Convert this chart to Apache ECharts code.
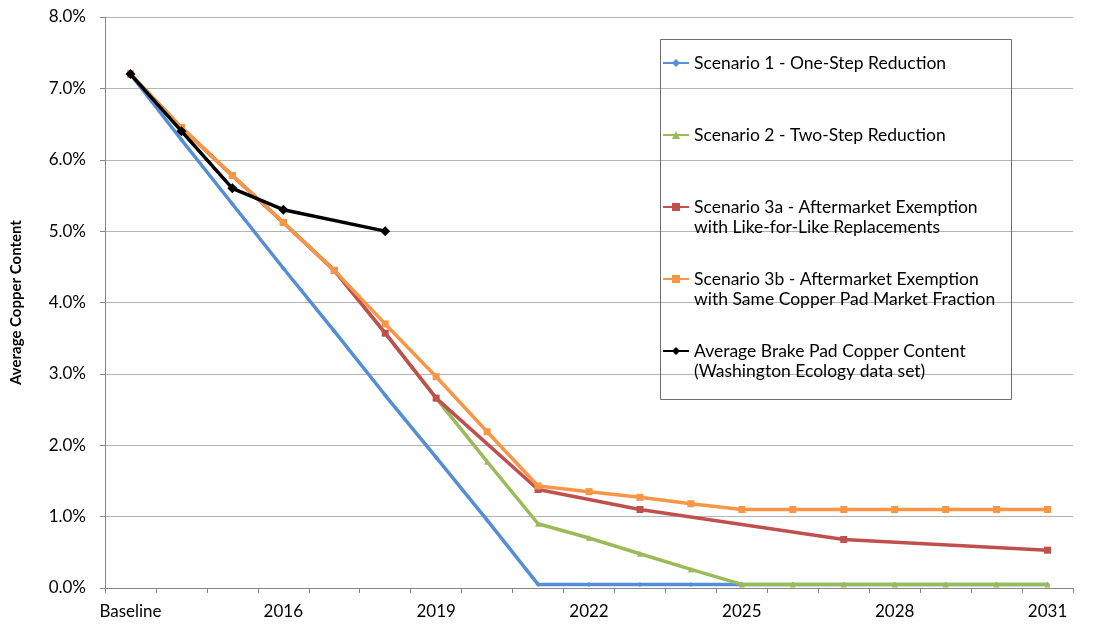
<!DOCTYPE html>
<html>
<head>
<meta charset="utf-8">
<script src="https://cdn.jsdelivr.net/npm/echarts@6/dist/echarts.min.js"></script>
<style>
html,body{margin:0;padding:0;background:#fff;}
#chart{width:1114px;height:625px;}
</style>
</head>
<body>
<div id="chart"></div>
<script>
const categories = ['Baseline','2014','2015','2016','2017','2018','2019','2020','2021','2022','2023','2024','2025','2026','2027','2028','2029','2030','2031'];
const seriesNames = [
  'Scenario 1 - One-Step Reduction',
  'Scenario 2 - Two-Step Reduction',
  'Scenario 3a - Aftermarket Exemption\nwith Like-for-Like Replacements',
  'Scenario 3b - Aftermarket Exemption\nwith Same Copper Pad Market Fraction',
  'Average Brake Pad Copper Content\n(Washington Ecology data set)'
];
const scenario1 = [7.2, 6.28, 5.38, 4.48, 3.6, 2.7, 1.83, 0.95, 0.05, 0.05, 0.05, 0.05, 0.05, 0.05, 0.05, 0.05, 0.05, 0.05, 0.05];
const scenario2 = [7.2, 6.45, 5.78, 5.12, 4.45, 3.57, 2.66, 1.77, 0.90, 0.70, 0.48, 0.26, 0.05, 0.05, 0.05, 0.05, 0.05, 0.05, 0.05];
const scenario3a = [7.2, 6.45, 5.78, 5.12, 4.45, 3.57, 2.66, null, 1.38, null, 1.10, null, null, null, 0.68, null, null, null, 0.53];
const scenario3b = [7.2, 6.45, 5.78, 5.12, 4.45, 3.70, 2.96, 2.19, 1.43, 1.35, 1.27, 1.18, 1.10, 1.10, 1.10, 1.10, 1.10, 1.10, 1.10];
const washington = [7.2, 6.4, 5.6, 5.3, null, 5.0];
const yTicks = {min: 0, max: 8, interval: 1};

const FONT = 'Lato';
const colors = ['#558ED5', '#9BBB59', '#C0504D', '#F79646', '#000000'];
const symbols = ['diamond', 'triangle', 'rect', 'rect', 'diamond'];
const symbolSizes = [5, 6, 7, 7, 10];
const dataSets = [scenario1, scenario2, scenario3a, scenario3b, washington];

const chart = echarts.init(document.getElementById('chart'), null, {renderer: 'canvas'});

const series = dataSets.map((d, i) => ({
  name: seriesNames[i],
  type: 'line',
  data: d,
  connectNulls: true,
  symbol: symbols[i],
  symbolSize: symbolSizes[i],
  showAllSymbol: true,
  lineStyle: {color: colors[i], width: 3.5},
  itemStyle: {color: colors[i]},
  z: 2 + i,
  animation: false
}));

chart.setOption({
  animation: false,
  textStyle: {fontFamily: FONT},
  grid: {left: 105, right: 41, top: 17, bottom: 37, containLabel: false, outerBoundsMode: 'none'},
  xAxis: {
    type: 'category',
    data: categories,
    boundaryGap: true,
    axisLine: {lineStyle: {color: '#868686', width: 1}},
    axisTick: {show: true, interval: 0, length: 5, lineStyle: {color: '#868686'}},
    axisLabel: {interval: 2, color: '#000', fontSize: 17, fontFamily: FONT, margin: 15},
    splitLine: {show: false}
  },
  yAxis: {
    type: 'value',
    min: yTicks.min, max: yTicks.max, interval: yTicks.interval,
    name: 'Average Copper Content',
    nameLocation: 'middle',
    nameGap: 81,
    nameTextStyle: {fontWeight: 'bold', fontSize: 15, color: '#000', fontFamily: FONT},
    axisLine: {show: true, lineStyle: {color: '#868686', width: 1}},
    axisTick: {show: true, length: 5, lineStyle: {color: '#868686'}},
    axisLabel: {formatter: v => v.toFixed(1) + '%', color: '#000', fontSize: 17, fontFamily: FONT, margin: 19},
    splitLine: {show: true, lineStyle: {color: '#B3B3B3', width: 1}}
  },
  legend: {
    orient: 'vertical',
    left: 662,
    top: 33,
    padding: 0,
    itemGap: 12,
    itemWidth: 26,
    itemHeight: 10,
    formatter: name => name.indexOf('\n') >= 0 ? '\u00a0\n' + name : '\u00a0\n' + name + '\n\u00a0',
    textStyle: {fontSize: 17.5, lineHeight: 20, color: '#000', fontFamily: FONT},
    selectedMode: false
  },
  graphic: [{
    type: 'rect',
    left: 660, top: 39,
    shape: {width: 351, height: 360},
    style: {fill: 'rgba(0,0,0,0)', stroke: '#6E6E6E', lineWidth: 1},
    z: 1
  }],
  series: series
});
</script>
</body>
</html>
